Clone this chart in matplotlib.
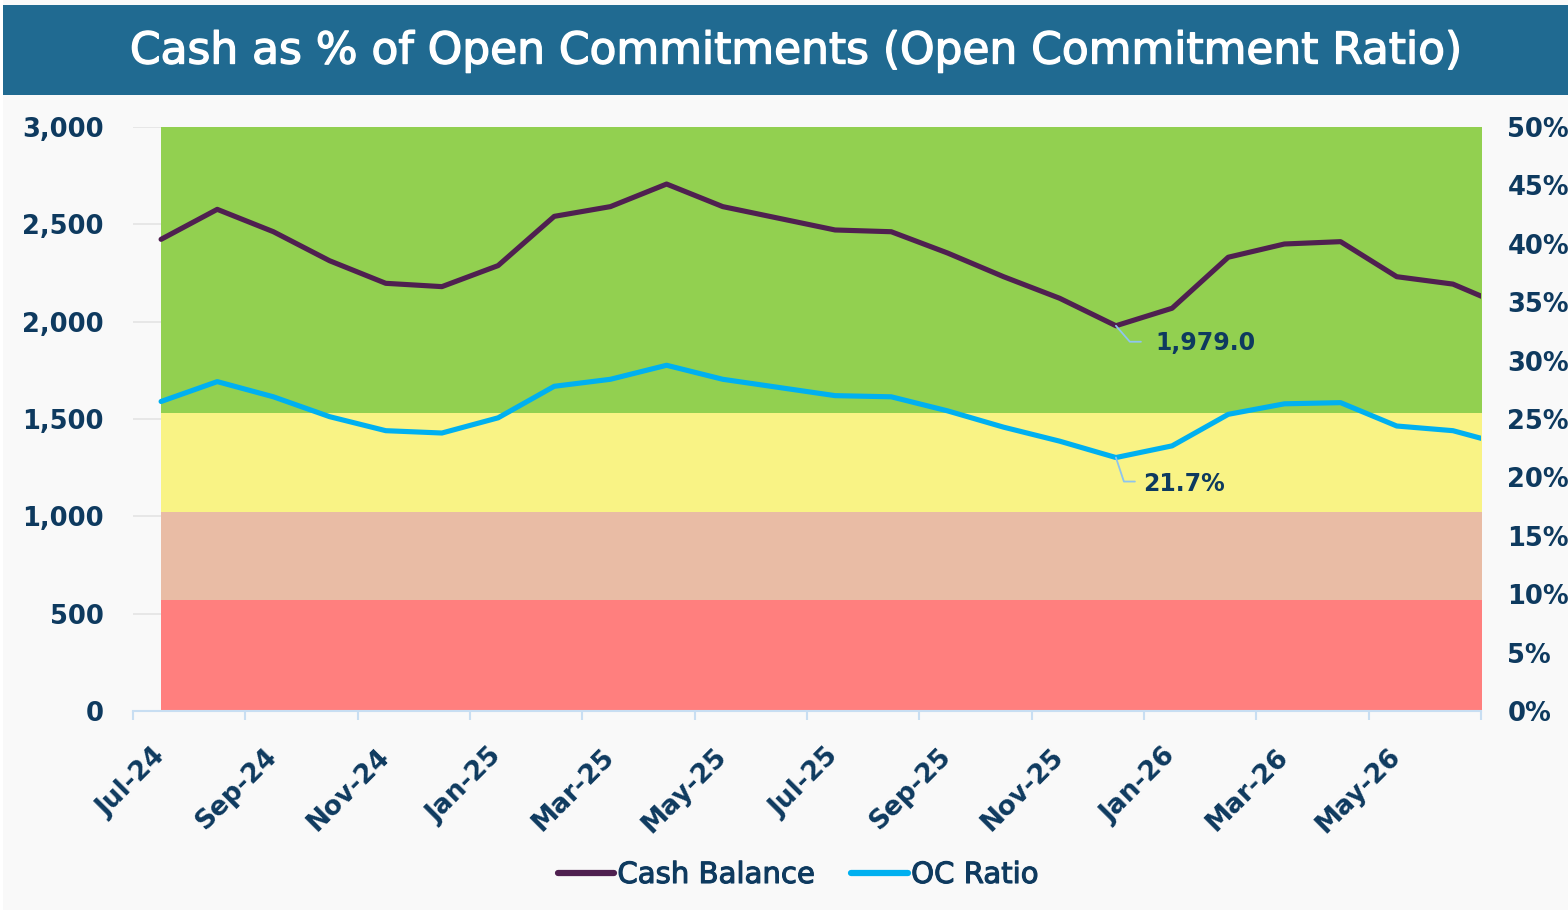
import matplotlib
matplotlib.use("Agg")
import matplotlib.pyplot as plt
from matplotlib.patches import Rectangle
from matplotlib.ticker import FuncFormatter, FixedLocator
import matplotlib.patheffects as pe

# ---------------- data ----------------
months = ["Jul-24", "Aug-24", "Sep-24", "Oct-24", "Nov-24", "Dec-24",
          "Jan-25", "Feb-25", "Mar-25", "Apr-25", "May-25", "Jun-25",
          "Jul-25", "Aug-25", "Sep-25", "Oct-25", "Nov-25", "Dec-25",
          "Jan-26", "Feb-26", "Mar-26", "Apr-26", "May-26", "Jun-26",
          "Jul-26"]
cash_balance = [2423, 2577, 2462, 2313, 2197, 2180, 2288, 2541, 2591, 2707,
                2591, 2531, 2471, 2462, 2353, 2231, 2120, 1979.0, 2069, 2331,
                2399, 2411, 2231, 2193, 2070]
oc_ratio = [26.5, 28.2, 26.9, 25.2, 24.0, 23.8, 25.1, 27.8, 28.4, 29.6,
            28.4, 27.7, 27.0, 26.9, 25.7, 24.3, 23.1, 21.7, 22.7, 25.4,
            26.3, 26.4, 24.4, 24.0, 22.7]
# threshold bands on the ratio axis (%)
band_edges = [0, 9.5, 17.0, 25.5, 50.0]
band_colors = ["#FF7F7E", "#E9BCA5", "#F9F385", "#92D050"]
n_visible = 24          # categories shown on the axis (Jul-24 .. Jun-26)
label_idx = 17          # Dec-25 data labels

# ---------------- style ----------------
TXT = "#0E3A5F"
FONT = "DejaVu Sans"
plt.rcParams["font.family"] = [FONT]

fig = plt.figure(figsize=(15.68, 9.10), dpi=100, facecolor="white")
W, H = 1568, 910
# background panel and title banner
fig.patches.append(Rectangle((3 / W, 0), 1, 1, transform=fig.transFigure,
                             facecolor="#F9F9F9", edgecolor="none", zorder=-10))
fig.patches.append(Rectangle((3 / W, 1 - 95 / H), 1, 90 / H, transform=fig.transFigure,
                             facecolor="#206A91", edgecolor="none", zorder=-5))
fig.text(0.5077, 1 - 51 / H, "Cash as % of Open Commitments (Open Commitment Ratio)",
         color="white", fontsize=31.6, ha="center", va="center",
         path_effects=[pe.withStroke(linewidth=1.0, foreground="white")])

left, right, top, bottom = 133 / W, 1481 / W, 127 / H, 711 / H
ax = fig.add_axes([left, 1 - bottom, right - left, bottom - top])
ax.set_facecolor("none")
ax2 = ax.twinx()

x = list(range(len(months)))

# gridlines (under bands)
ax.set_axisbelow(True)
ax.grid(axis="y", color="#E6E6E6", lw=1.3, zorder=0)
ax.grid(axis="x", visible=False)

# bands drawn in ratio units
for lo, hi, c in zip(band_edges[:-1], band_edges[1:], band_colors):
    ax.fill_between([0, len(months)], [lo, lo], [hi, hi], color=c, lw=0,
                    transform=ax2.transData, zorder=1)

l1, = ax.plot(x, cash_balance, color="#4F2050", lw=3.7, zorder=3,
              solid_joinstyle="round", solid_capstyle="round", label="Cash Balance")
l2, = ax2.plot(x, oc_ratio, color="#00B0F0", lw=3.7, zorder=3,
               solid_joinstyle="round", solid_capstyle="round", label="OC Ratio")
ax2.set_ylim(0, 50)
ax.set_ylim(0, 3000)
ax.set_xlim(-0.5, n_visible - 0.5)

# axes styling
for a in (ax, ax2):
    for s in ("top", "left", "right", "bottom"):
        a.spines[s].set_visible(False)
ax.spines["bottom"].set_visible(True)
ax.spines["bottom"].set_color("#C8DEF2")
ax.spines["bottom"].set_linewidth(1.5)
ax.spines["bottom"].set_zorder(4)

ax.yaxis.set_major_locator(FixedLocator(range(0, 3001, 500)))
ax.yaxis.set_major_formatter(FuncFormatter(lambda v, p: f"{v:,.0f}"))
ax.tick_params(axis="y", length=0, pad=21, labelsize=18.5, labelcolor=TXT)
ax2.yaxis.set_major_locator(FixedLocator(range(0, 51, 5)))
ax2.yaxis.set_major_formatter(FuncFormatter(lambda v, p: f"{v:.0f}%"))
ax2.tick_params(axis="y", length=0, pad=19, labelsize=18.5, labelcolor=TXT)
for lab in ax.get_yticklabels() + ax2.get_yticklabels():
    lab.set_fontweight("bold")

major = [i - 0.5 for i in range(0, n_visible + 1, 2)]
ax.set_xticks(major)
ax.set_xticklabels([])
ax.set_xticks(list(range(0, n_visible, 2)), minor=True)
ax.set_xticklabels([months[i] for i in range(0, n_visible, 2)], minor=True,
                   rotation=45, ha="right", va="center", rotation_mode="anchor",
                   fontweight="bold")
ax.tick_params(axis="x", which="major", length=6.5, width=1.5, color="#C8DEF2")
ax.tick_params(axis="x", which="minor", length=0, pad=30, labelsize=19, labelcolor=TXT)

# data labels with leader lines
lead = "#8EC5EE"
ax.annotate("", xy=(label_idx, cash_balance[label_idx]), xytext=(25, -16),
            textcoords="offset pixels",
            arrowprops=dict(arrowstyle="-", color=lead, lw=1.3, shrinkA=0, shrinkB=0,
                            patchA=None, connectionstyle="angle,angleA=0,angleB=-49,rad=0"),
            zorder=5)
ax.annotate(f"{cash_balance[label_idx]:,.1f}", xy=(label_idx, cash_balance[label_idx]),
            xytext=(39, -17), textcoords="offset pixels", ha="left", va="center",
            fontsize=17, fontweight="bold", color=TXT, zorder=6)
ax2.annotate("", xy=(label_idx, oc_ratio[label_idx]), xytext=(19, -24),
             textcoords="offset pixels",
             arrowprops=dict(arrowstyle="-", color=lead, lw=1.3, shrinkA=0, shrinkB=0,
                             patchA=None, connectionstyle="angle,angleA=0,angleB=-71.6,rad=0"),
             zorder=5)
ax2.annotate(f"{oc_ratio[label_idx]:.1f}%", xy=(label_idx, oc_ratio[label_idx]),
             xytext=(27, -26), textcoords="offset pixels", ha="left", va="center",
             fontsize=17, fontweight="bold", color=TXT, zorder=6)

leg = fig.legend(handles=[l1, l2], loc="center", bbox_to_anchor=(0.509, 1 - 875 / H),
                 ncol=2, frameon=False, fontsize=21, handlelength=1.95,
                 handletextpad=0.1, columnspacing=1.25, labelcolor=TXT)
for h in leg.legend_handles:
    h.set_linewidth(4.5)
for t in leg.get_texts():
    t.set_path_effects([pe.withStroke(linewidth=0.8, foreground=TXT)])

fig.savefig("out.png", dpi=100, facecolor=fig.get_facecolor())
